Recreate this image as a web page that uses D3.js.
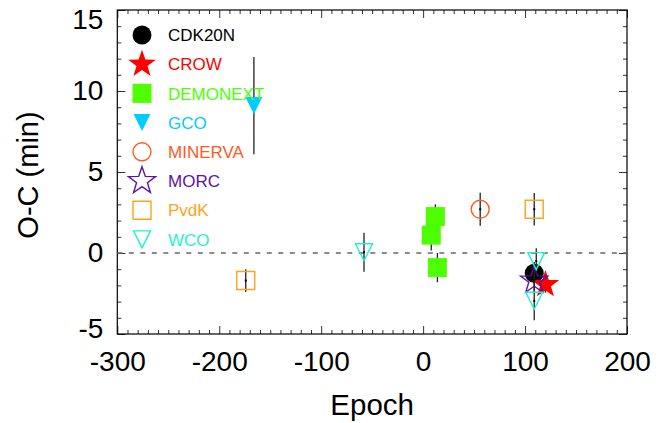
<!DOCTYPE html>
<html>
<head>
<meta charset="utf-8">
<script src="https://cdn.jsdelivr.net/npm/d3@7"></script>
<style>
  html, body { margin: 0; padding: 0; background: #fff; }
  svg { display: block; font-family: "Liberation Sans", Arial, Helvetica, sans-serif; }
</style>
</head>
<body>
<svg id="chart" width="670" height="423"></svg>
<script>
// Observatories, in legend order
const observatories = ["CDK20N", "CROW", "DEMONEXT", "GCO", "MINERVA", "MORC", "PvdK", "WCO"];
const obsColors = ["#000000", "#ff0000", "#4dff00", "#00ccff", "#ff5a1e", "#5a14a8", "#ffa31a", "#1ff2cc"];
const obsSymbols = ["circle", "star", "square", "triangle", "circle", "star", "square", "triangle"];
const obsFilled = [true, true, true, true, false, false, false, false];

// Transit timing measurements: epoch, O-C (min), 1-sigma error (min), observatory
const epoch    = [109,   120,   8,    12,   14,   -166, 56,   109,  -174, 109,  -58,  111,  109];
const ocMin    = [-1.25, -1.95, 1.1,  2.25, -0.9, 9.1,  2.7,  -1.7, -1.7, 2.7,  0.05, -0.5, -2.95];
const ocErr    = [0.7,   0.5,   0.95, 0.75, 0.9,  3.0,  1.02, 0.8,  0.7,  1.0,  1.2,  0.8,  1.2];
const obsIndex = [0,     1,     2,    2,    2,    3,    4,    5,    6,    6,    7,    7,    7];

// Axis ticks
const xMajorTicks = [-300, -200, -100, 0, 100, 200];
const yMajorTicks = [-5, 0, 5, 10, 15];

(function () {
const svg = d3.select("#chart");
const pLeft = 117.3, pRight = 627, pTop = 10, pBottom = 334;

const x = d3.scaleLinear().domain([-300, 200]).range([pLeft, pRight]);
const y = d3.scaleLinear().domain([-5, 15]).range([pBottom, pTop]);

const xMinor = d3.range(-300, 201, 10).filter(v => v % 100 !== 0);
const yMinor = d3.range(-5, 16, 1).filter(v => v % 5 !== 0);

const tickColor = "#333";
function styleAxis(g) {
  g.select(".domain").remove();
  g.selectAll(".tick line").attr("stroke", tickColor).attr("stroke-width", 1);
}

// Minor ticks (all four sides, pointing inward)
svg.append("g").attr("transform", `translate(0,${pBottom})`)
  .call(d3.axisBottom(x).tickValues(xMinor).tickSize(-4).tickFormat(""))
  .call(styleAxis);
svg.append("g").attr("transform", `translate(0,${pTop})`)
  .call(d3.axisTop(x).tickValues(xMinor).tickSize(-4).tickFormat(""))
  .call(styleAxis);
svg.append("g").attr("transform", `translate(${pLeft},0)`)
  .call(d3.axisLeft(y).tickValues(yMinor).tickSize(-4).tickFormat(""))
  .call(styleAxis);
svg.append("g").attr("transform", `translate(${pRight},0)`)
  .call(d3.axisRight(y).tickValues(yMinor).tickSize(-4).tickFormat(""))
  .call(styleAxis);

// Major ticks with labels on bottom and left
const xAxis = svg.append("g").attr("transform", `translate(0,${pBottom})`)
  .call(d3.axisBottom(x).tickValues(xMajorTicks).tickSize(-8).tickPadding(17).tickFormat(d => String(d)))
  .call(styleAxis);
xAxis.selectAll(".tick text")
  .attr("font-size", 28).attr("fill", "#000")
  .attr("font-family", "Liberation Sans, Arial, sans-serif");

const yAxis = svg.append("g").attr("transform", `translate(${pLeft},0)`)
  .call(d3.axisLeft(y).tickValues(yMajorTicks).tickSize(-8).tickPadding(14).tickFormat(d => String(d)))
  .call(styleAxis);
// end labels sit a little inside the axis range
const yLabelShift = { "15": 9.5, "-5": -5.5 };
yAxis.selectAll(".tick text")
  .attr("font-size", 28).attr("fill", "#000")
  .attr("font-family", "Liberation Sans, Arial, sans-serif")
  .attr("y", d => yLabelShift[String(d)] || 0);

svg.append("g").attr("transform", `translate(0,${pTop})`)
  .call(d3.axisTop(x).tickValues(xMajorTicks).tickSize(-8).tickFormat(""))
  .call(styleAxis);
svg.append("g").attr("transform", `translate(${pRight},0)`)
  .call(d3.axisRight(y).tickValues(yMajorTicks).tickSize(-8).tickFormat(""))
  .call(styleAxis);

// Plot frame
svg.append("rect")
  .attr("x", pLeft).attr("y", pTop)
  .attr("width", pRight - pLeft).attr("height", pBottom - pTop)
  .attr("fill", "none").attr("stroke", "#000").attr("stroke-width", 1.2);

// Zero line
svg.append("line")
  .attr("x1", pLeft).attr("x2", pRight)
  .attr("y1", y(0)).attr("y2", y(0))
  .attr("stroke", "#666").attr("stroke-width", 1.6)
  .attr("stroke-dasharray", "5,6.5");

// Axis titles
svg.append("text")
  .attr("x", (pLeft + pRight) / 2).attr("y", 415)
  .attr("text-anchor", "middle").attr("font-size", 29.5).attr("fill", "#000")
  .text("Epoch");
svg.append("text")
  .attr("transform", `translate(38,175) rotate(-90)`)
  .attr("text-anchor", "middle").attr("font-size", 29).attr("fill", "#000")
  .text("O-C (min)");

// Symbol paths centred on the origin
function starPath(R, ratio) {
  const pts = [];
  for (let i = 0; i < 10; i++) {
    const r = i % 2 === 0 ? R : R * ratio;
    const a = -Math.PI / 2 + i * Math.PI / 5;
    pts.push([r * Math.cos(a), r * Math.sin(a)]);
  }
  return "M" + pts.map(p => p[0].toFixed(2) + "," + p[1].toFixed(2)).join("L") + "Z";
}
function symbolPath(kind, filled) {
  switch (kind) {
    case "circle": {
      const r = filled ? 9.5 : 9;
      return `M${-r},0A${r},${r} 0 1,0 ${r},0A${r},${r} 0 1,0 ${-r},0Z`;
    }
    case "star": return starPath(filled ? 14.5 : 14.3, 0.4);
    case "square": { const h = filled ? 9.5 : 9; return `M${-h},${-h}H${h}V${h}H${-h}Z`; }
    case "triangle": { const w = 8.5, h = 8.5; return `M${-w},${-h}H${w}L0,${h}Z`; }
  }
}
function drawSymbol(g, i, cx, cy) {
  g.append("path")
    .attr("d", symbolPath(obsSymbols[i], obsFilled[i]))
    .attr("transform", `translate(${cx},${cy})`)
    .attr("fill", obsFilled[i] ? obsColors[i] : "none")
    .attr("stroke", obsFilled[i] ? "none" : obsColors[i])
    .attr("stroke-width", 1.4)
    .attr("stroke-linejoin", "miter");
}

// Data: each observatory draws its error bars, centre dots, then symbols
const points = epoch.map((e, k) => ({ e, oc: ocMin[k], err: ocErr[k], obs: obsIndex[k] }));
const dataG = svg.append("g");
observatories.forEach((name, i) => {
  const pts = points.filter(p => p.obs === i);
  const g = dataG.append("g");
  pts.forEach(p => {
    g.append("line")
      .attr("x1", x(p.e)).attr("x2", x(p.e))
      .attr("y1", y(p.oc - p.err)).attr("y2", y(p.oc + p.err))
      .attr("stroke", "#222").attr("stroke-width", 1.3);
    g.append("rect")
      .attr("x", x(p.e) - 1).attr("y", y(p.oc) - 1)
      .attr("width", 2).attr("height", 2).attr("fill", "#000");
  });
  pts.forEach(p => drawSymbol(g, i, x(p.e), y(p.oc)));
});

// Legend
const legend = svg.append("g");
observatories.forEach((name, i) => {
  const ly = 35 + i * 29.2;
  drawSymbol(legend, i, 142, ly);
  legend.append("text")
    .attr("x", 168).attr("y", ly + 6.2)
    .attr("font-size", 17).attr("fill", obsColors[i])
    .text(name);
});
})();
</script>
</body>
</html>
